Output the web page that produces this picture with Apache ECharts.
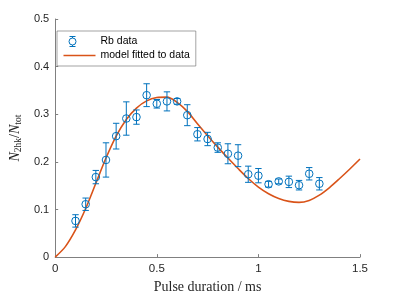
<!DOCTYPE html>
<html>
<head>
<meta charset="utf-8">
<script src="https://cdn.jsdelivr.net/npm/echarts@6/dist/echarts.min.js"></script>
<style>html,body{margin:0;padding:0;background:#fff;}#c{width:399px;height:299px;}</style>
</head>
<body>
<div id="c"></div>
<script>
const pulseMs = [0.1,0.15,0.2,0.25,0.3,0.35,0.4,0.45,0.5,0.55,0.6,0.65,0.7,0.75,0.8,0.85,0.9,0.95,1.0,1.05,1.1,1.15,1.2,1.25,1.3];
const rbData  = [0.076,0.111,0.168,0.204,0.254,0.291,0.294,0.340,0.322,0.327,0.327,0.298,0.258,0.248,0.230,0.217,0.213,0.174,0.171,0.153,0.159,0.158,0.151,0.175,0.154];
const rbErr   = [0.013,0.013,0.014,0.036,0.027,0.035,0.015,0.024,0.009,0.020,0.006,0.022,0.014,0.014,0.010,0.021,0.023,0.017,0.015,0.006,0.005,0.012,0.010,0.013,0.013];
const modelX  = [0,0.05,0.1,0.15,0.2,0.25,0.3,0.35,0.4,0.45,0.5,0.55,0.6,0.65,0.7,0.75,0.8,0.85,0.9,0.95,1.0,1.05,1.1,1.15,1.2,1.25,1.3,1.35,1.4,1.45,1.5];
const modelY  = [0,0.022,0.057,0.102,0.155,0.208,0.254,0.289,0.313,0.328,0.335,0.336,0.325,0.306,0.280,0.255,0.231,0.208,0.186,0.165,0.147,0.133,0.123,0.117,0.115,0.119,0.130,0.146,0.165,0.185,0.206];
const xTicks = [0,0.5,1,1.5];
const yTicks = [0,0.1,0.2,0.3,0.4,0.5];

const BLUE = '#0072BD', ORANGE = '#D95319', AX = '#262626';
const chart = echarts.init(document.getElementById('c'), null, {renderer:'canvas'});
const errData = pulseMs.map((x,i)=>[x, rbData[i], rbErr[i]]);
const lineData = modelX.map((x,i)=>[x, modelY[i]]);

const errIcon = 'path://M0,5L0,5M6,0L12,0M9,0L9,1.5M9,8.5L9,10M6,10L12,10M12.5,5A3.5,3.5,0,1,1,5.5,5A3.5,3.5,0,1,1,12.5,5ZM32,5L32,5';
const lineIcon = 'path://M0,0L0,0M0,4.25L32,4.25L32,5.75L0,5.75ZM32,10L32,10';

chart.setOption({
  animation:false,
  grid:{left:52,right:39,top:19,bottom:36,containLabel:false},
  legend:{
    orient:'vertical', left:57, top:31,
    padding:[5,6,5,6], itemGap:3, itemWidth:32, itemHeight:10,
    borderColor:'#666', borderWidth:0.6, backgroundColor:'#fff',
    textStyle:{fontFamily:'Liberation Sans, Arial, sans-serif', fontSize:10.5, color:'#000'},
    data:[
      {name:'Rb data', icon:errIcon, itemStyle:{color:'rgba(0,0,0,0)', borderColor:BLUE, borderWidth:1}},
      {name:'model fitted to data', icon:lineIcon, itemStyle:{color:ORANGE, borderWidth:0}}
    ]
  },
  xAxis:{
    type:'value', min:0, max:1.5, interval:0.5,
    name:'Pulse duration / ms', nameLocation:'middle', nameGap:18,
    nameTextStyle:{fontFamily:'Liberation Serif, Times New Roman, serif', fontSize:14, color:AX},
    axisLine:{show:true, lineStyle:{color:'#808080', width:1}},
    axisTick:{show:true, inside:true, length:3, lineStyle:{color:'#808080'}},
    axisLabel:{fontFamily:'Liberation Sans, Arial, sans-serif', fontSize:11.5, color:AX, margin:6,
      formatter:v=>String(v)},
    splitLine:{show:false}
  },
  yAxis:{
    type:'value', min:0, max:0.5, interval:0.1,
    name:'{n|N}{s|2hk}{d|/}{n|N}{s|tot}', nameLocation:'middle', nameGap:30, nameRotate:90,
    nameTextStyle:{
      color:AX,
      rich:{
        n:{fontFamily:'Liberation Serif, serif', fontStyle:'italic', fontSize:14, color:AX},
        d:{fontFamily:'Liberation Serif, serif', fontSize:14, color:AX},
        s:{fontFamily:'Liberation Serif, serif', fontSize:9.5, color:AX, padding:[6,0,0,0]}
      }
    },
    axisLine:{show:true, lineStyle:{color:'#808080', width:1}},
    axisTick:{show:true, inside:true, length:3, lineStyle:{color:'#808080'}},
    axisLabel:{fontFamily:'Liberation Sans, Arial, sans-serif', fontSize:11, color:AX, margin:6,
      formatter:v=>String(Math.round(v*10)/10)},
    splitLine:{show:false}
  },
  series:[
    {
      name:'model fitted to data', type:'line', data:lineData, symbol:'none', smooth:0.3,
      lineStyle:{color:ORANGE, width:1.6}, itemStyle:{color:ORANGE}, z:3
    },
    {
      name:'Rb data', type:'custom', data:errData, z:4,
      itemStyle:{color:BLUE},
      encode:{x:0, y:1},
      renderItem:function(params, api){
        const x = api.value(0), y = api.value(1), e = api.value(2);
        const c = api.coord([x,y]);
        const lo = api.coord([x,y-e]);
        const hi = api.coord([x,y+e]);
        const hw = 3.2, r = 3.8;
        const st = {stroke:BLUE, lineWidth:1, fill:null};
        return {type:'group', children:[
          {type:'line', shape:{x1:lo[0],y1:lo[1],x2:hi[0],y2:hi[1]}, style:st},
          {type:'line', shape:{x1:lo[0]-hw,y1:lo[1],x2:lo[0]+hw,y2:lo[1]}, style:st},
          {type:'line', shape:{x1:hi[0]-hw,y1:hi[1],x2:hi[0]+hw,y2:hi[1]}, style:st},
          {type:'circle', shape:{cx:c[0],cy:c[1],r:r}, style:{stroke:BLUE, lineWidth:1, fill:'rgba(0,0,0,0)'}}
        ]};
      }
    }
  ]
});
</script>
</body>
</html>
